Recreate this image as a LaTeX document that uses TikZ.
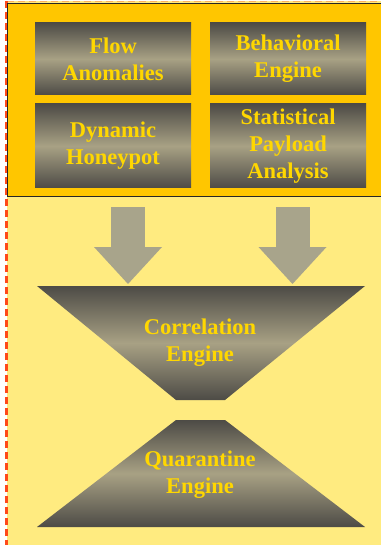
\documentclass[tikz,border=0pt]{standalone}
\usepackage{fontspec}
\setmainfont{Liberation Serif}
\usetikzlibrary{arrows.meta, positioning}

\definecolor{panel}{HTML}{FFC600}
\definecolor{field}{HTML}{FFEB80}
\definecolor{engdark}{HTML}{4D4B46}
\definecolor{engmid}{HTML}{A8A184}
\definecolor{feedgray}{HTML}{A8A48B}
\definecolor{label}{HTML}{FFD700}
\definecolor{frame}{HTML}{FF4A1A}

\tikzset{
    engine/.style={top color=engdark, bottom color=engdark, middle color=engmid},
    source/.style={engine, minimum width=156pt, inner sep=0pt},
    caption/.style={text=label, align=center, font=\fontsize{22.5}{27}\selectfont\bfseries},
    feed/.style={draw=feedgray, line width=34pt,
        -{Triangle[width=68pt, length=37pt, line width=0pt, fill=feedgray]}},
    edge dash/.style={frame, dash pattern=on 7pt off 4pt},
}

\begin{document}
\begin{tikzpicture}[x=1pt, y=-1pt]
    \useasboundingbox (0,0) rectangle (380,545);

    % frame and the top panel
    \fill[field] (6.5,1.5) rectangle (382,547);
    \draw[edge dash, line width=2.2pt] (6.5,547) -- (6.5,1.5);
    \draw[edge dash, line width=1pt, draw opacity=0.35] (6.5,1.5) -- (382,1.5);
    \draw[fill=panel, draw=black!85, line width=1pt] (382,3.5) -- (7,3.5) -- (7,197) -- (382,197);

    % sources
    \node[source, minimum height=72pt] (FA) at (113,59) {};
    \node[source, minimum height=72pt] (BE) at (288,59) {};
    \node[source, minimum height=84pt] (DH) at (113,146) {};
    \node[source, minimum height=84pt] (SP) at (288,146) {};
    \node[caption] at (FA) {Flow\\Anomalies};
    \node[caption] at (BE) {Behavioral\\Engine};
    \node[caption] at (DH) {Dynamic\\Honeypot};
    \node[caption] at (SP) {Statistical\\Payload\\Analysis};

    % the two engines
    \shade[engine] (37,286) -- (365,286) -- (225,400) -- (176,400) -- cycle;
    \shade[engine] (176,420) -- (225,420) -- (365,527) -- (37,527) -- cycle;
    \node[caption] (CE) at (200,343) {Correlation\\Engine};
    \node[caption] (QE) at (200,475) {Quarantine\\Engine};

    % feeds into correlation
    \coordinate (inL) at (128,207);
    \coordinate (inR) at (292.5,207);
    \coordinate (outL) at (128,284);
    \coordinate (outR) at (292.5,284);
    \draw[feed] (inL) -- (outL);
    \draw[feed] (inR) -- (outR);
\end{tikzpicture}
\end{document}
